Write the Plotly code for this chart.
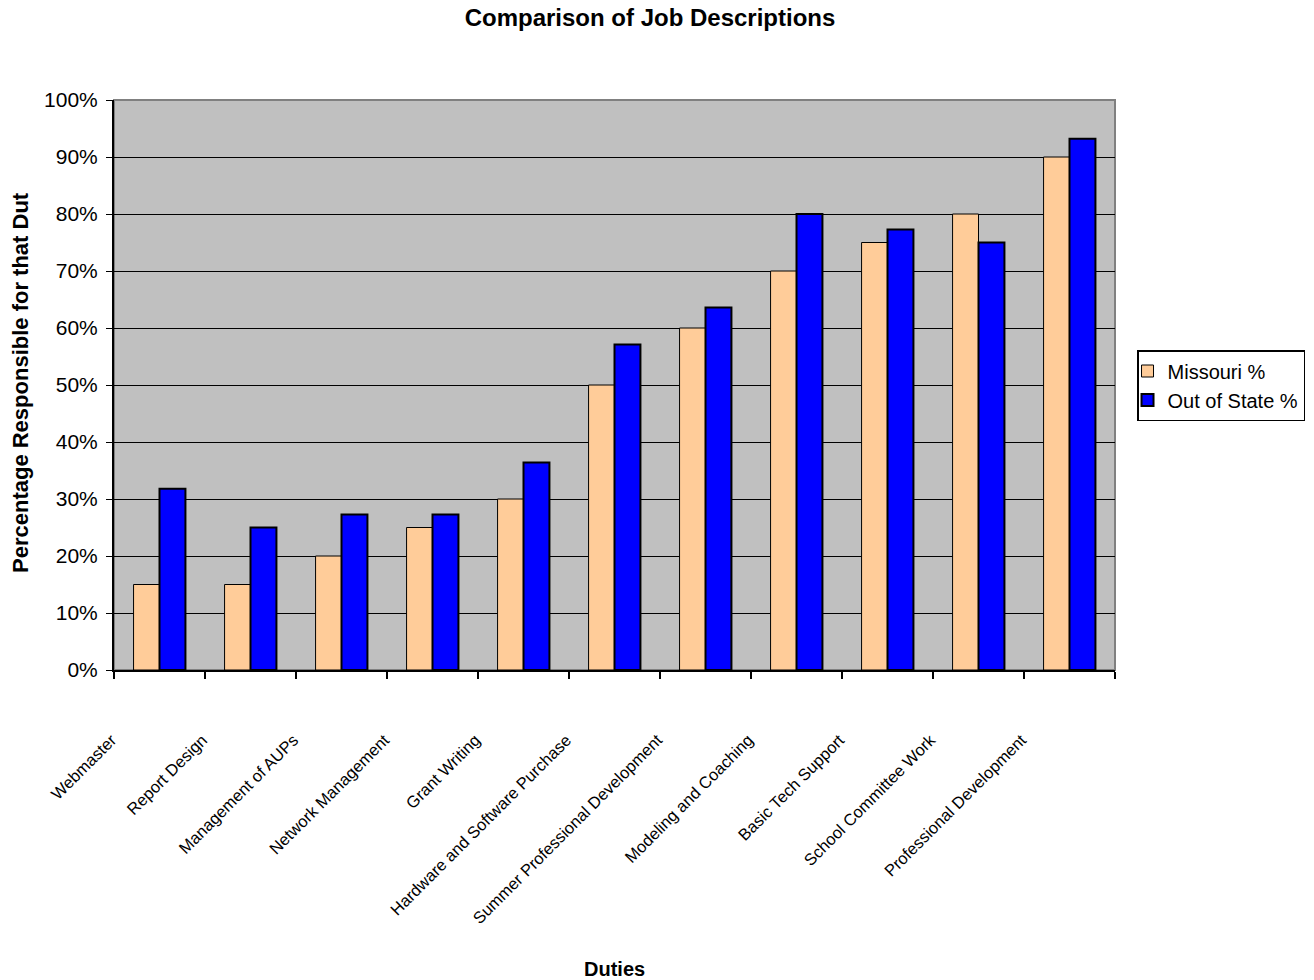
import plotly.graph_objects as go

duties = ["Webmaster", "Report Design", "Management of AUPs", "Network Management",
          "Grant Writing", "Hardware and Software Purchase", "Summer Professional Development",
          "Modeling and Coaching", "Basic Tech Support", "School Committee Work",
          "Professional Development"]
missouri = [0.15, 0.15, 0.20, 0.25, 0.30, 0.50, 0.60, 0.70, 0.75, 0.80, 0.90]
out_of_state = [0.318, 0.25, 0.273, 0.273, 0.364, 0.571, 0.636, 0.80, 0.773, 0.75, 0.932]

W, H = 1314, 980
L, R, T, B = 114, 199, 100, 310

fig = go.Figure()
fig.add_trace(go.Bar(x=duties, y=missouri, name="Missouri %",
                     marker=dict(color="#FFCC99", line=dict(color="black", width=1))))
fig.add_trace(go.Bar(x=duties, y=out_of_state, name="Out of State %",
                     marker=dict(color="#0000FF", line=dict(color="black", width=2))))

fig.update_layout(
    width=W, height=H,
    margin=dict(l=L, r=R, t=T, b=B, autoexpand=False),
    paper_bgcolor="white", plot_bgcolor="#C0C0C0",
    barmode="group", bargap=0.43, bargroupgap=0,
    font=dict(family="Liberation Sans, Arial, sans-serif", color="black"),
    title=dict(text="<b>Comparison of Job Descriptions</b>", x=650 / W,
               xanchor="center", y=1 - 18 / H, yanchor="middle", yref="container",
               font=dict(size=24, family="Liberation Sans, Arial, sans-serif")),
    showlegend=True,
    legend=dict(x=1.022, xanchor="left", y=(670 - 350) / 570, yanchor="top",
                bordercolor="black", borderwidth=1.5, bgcolor="white",
                font=dict(size=20), tracegroupgap=0, indentation=-11),
    xaxis=dict(showline=True, linecolor="black", linewidth=2, ticks="outside",
               tickson="boundaries", ticklen=7, tickcolor="black", tickwidth=2,
               tickangle=-45, showgrid=False,
               tickfont=dict(size=16.5, family="Liberation Sans, Arial"),
               ticklabelshift=-48, ticklabelstandoff=52),
    yaxis=dict(range=[0, 1], dtick=0.1, tickformat=".0%", showline=True, linecolor="black",
               linewidth=2, ticks="outside", ticklen=6, tickcolor="black", tickwidth=1,
               showgrid=True, gridcolor="black", gridwidth=1, zeroline=False,
               tickfont=dict(size=21), ticklabelstandoff=4),
    shapes=[dict(type="rect", xref="paper", yref="paper", x0=0, x1=1, y0=0, y1=1,
                 line=dict(color="#808080", width=2), layer="below")],
    annotations=[
        dict(text="<b>Percentage Responsible for that Dut</b>", xref="paper", yref="paper",
             x=-(L - 20) / (W - L - R), y=(670 - 383) / 570, xanchor="center", yanchor="middle",
             textangle=-90, showarrow=False, font=dict(size=22)),
        dict(text="<b>Duties</b>", xref="paper", yref="paper", x=0.5,
             y=-(969 - 670) / (H - T - B), xanchor="center", yanchor="middle",
             showarrow=False, font=dict(size=20)),
    ],
)

fig.write_html("out.html")
